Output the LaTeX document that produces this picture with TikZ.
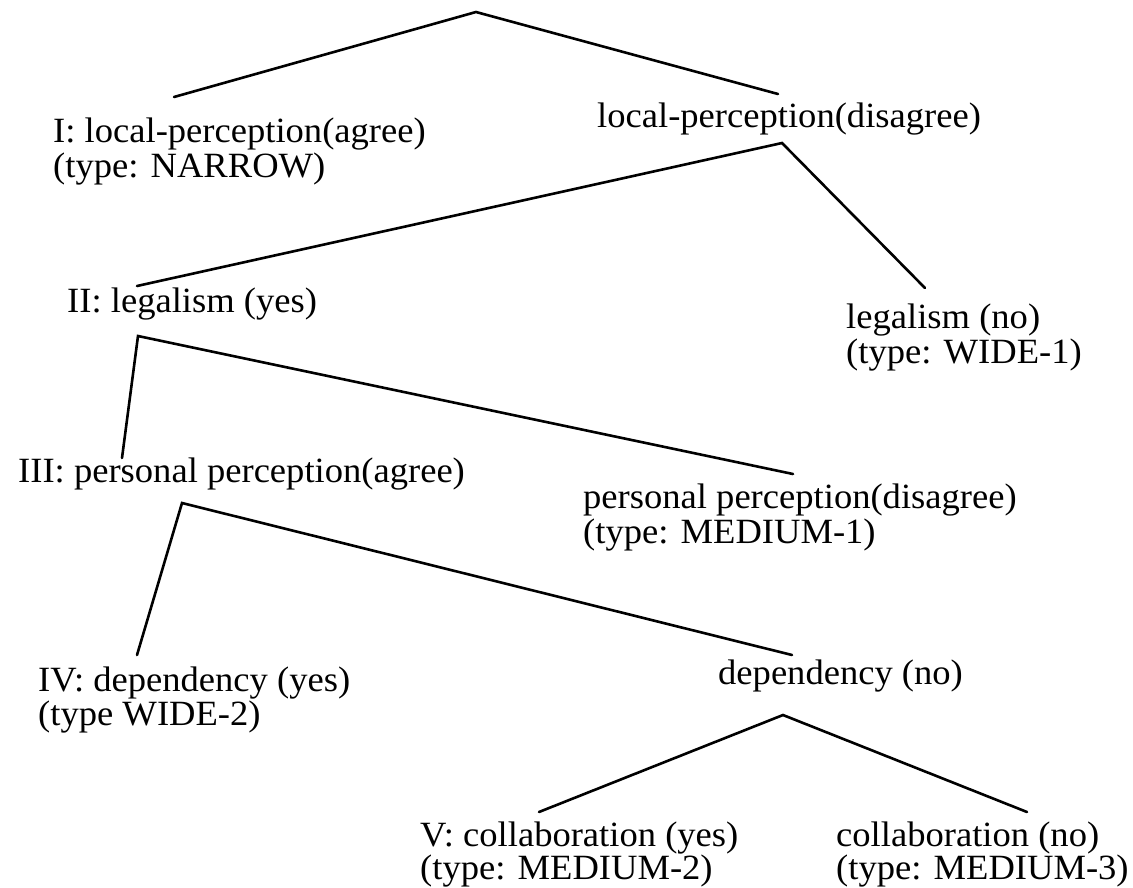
\documentclass[tikz,border=0pt]{standalone}
\usepackage{fontspec}
\setmainfont{Liberation Serif}[FakeStretch=1.03]
\begin{document}
\begin{tikzpicture}[x=1pt,y=-1pt,
  lbl/.style={anchor=base west,inner sep=0pt,font=\fontsize{35.5}{35}\selectfont},
  edge/.style={line width=2.6pt,line cap=round}]
\useasboundingbox (0,0) rectangle (1133,887);
% labels (first line / second line)
\node[lbl] (n1)  at (53,142)  {I: local-perception(agree)};
\node[lbl] (n1t) at (53,177)  {(type: NARROW)};
\node[lbl] (n2)  at (597,127) {local-perception(disagree)};
\node[lbl] (n3)  at (67,312)  {II: legalism (yes)};
\node[lbl] (n4)  at (846,328) {legalism (no)};
\node[lbl] (n4t) at (846,363) {(type: WIDE-1)};
\node[lbl] (n5)  at (18,482)  {III: personal perception(agree)};
\node[lbl] (n6)  at (583,508) {personal perception(disagree)};
\node[lbl] (n6t) at (583,543) {(type: MEDIUM-1)};
\node[lbl] (n7)  at (38,691)  {IV: dependency (yes)};
\node[lbl] (n7t) at (38,725)  {(type WIDE-2)};
\node[lbl] (n8)  at (718,684) {dependency (no)};
\node[lbl] (n9)  at (420,846) {V: collaboration (yes)};
\node[lbl] (n9t) at (420,879) {(type: MEDIUM-2)};
\node[lbl] (n10) at (836,846) {collaboration (no)};
\node[lbl] (n10t) at (836,879) {(type: MEDIUM-3)};
% branch points and edge ends
\coordinate (r)  at (476,12);
\coordinate (a1) at (174,97);
\coordinate (b1) at (778,94);
\coordinate (r2) at (782,143);
\coordinate (a2) at (137,286);
\coordinate (b2) at (925,288);
\coordinate (r3) at (138,336);
\coordinate (a3) at (122,458);
\coordinate (b3) at (793,474);
\coordinate (r4) at (182,503);
\coordinate (a4) at (137,655);
\coordinate (b4) at (792,655);
\coordinate (r5) at (783,715);
\coordinate (a5) at (539,812);
\coordinate (b5) at (1027,812);
\draw[edge] (a1) -- (r) -- (b1);
\draw[edge] (a2) -- (r2) -- (b2);
\draw[edge] (a3) -- (r3) -- (b3);
\draw[edge] (a4) -- (r4) -- (b4);
\draw[edge] (a5) -- (r5) -- (b5);
\end{tikzpicture}
\end{document}
